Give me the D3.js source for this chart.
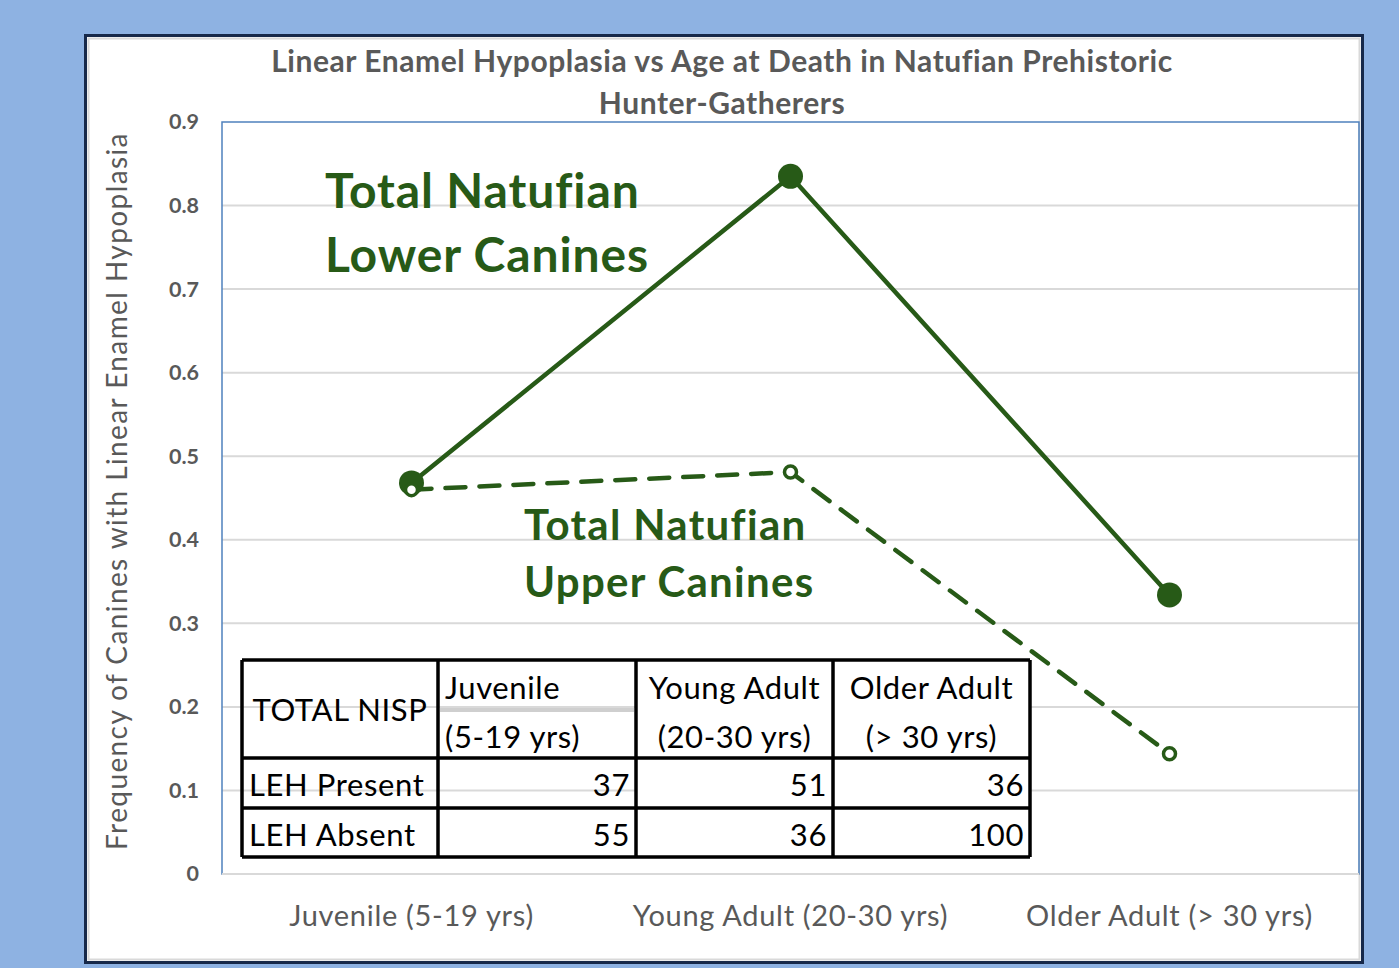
<!DOCTYPE html>
<html>
<head>
<meta charset="utf-8">
<script src="https://cdn.jsdelivr.net/npm/d3@7"></script>
<style>
  html,body{margin:0;padding:0;background:#8EB2E2;overflow:hidden;}
  svg{display:block;font-family:Lato,"Open Sans",sans-serif;}
</style>
</head>
<body>
<div id="chart"></div>
<script>
(function(){
  // data
  const categories=["Juvenile (5-19 yrs)","Young Adult (20-30 yrs)","Older Adult (> 30 yrs)"];
  const lowerCanines=[0.468,0.835,0.334];
  const upperCanines=[0.46,0.481,0.144];
  const yTicks=[0,0.1,0.2,0.3,0.4,0.5,0.6,0.7,0.8,0.9];
  const tableHead=["TOTAL NISP","Juvenile|(5-19 yrs)","Young Adult|(20-30 yrs)","Older Adult|(> 30 yrs)"];
  const tableRows=["LEH Present","LEH Absent"];
  const lehPresent=[37,51,36];
  const lehAbsent=[55,36,100];

  const W=1399,H=968;
  const green="#275A17", grey="#595959";
  const svg=d3.select("#chart").append("svg").attr("width",W).attr("height",H);

  // card
  svg.append("rect").attr("x",85.5).attr("y",35.5).attr("width",1277).attr("height",927)
    .attr("fill","#fff").attr("stroke","#17294a").attr("stroke-width",3);
  svg.append("rect").attr("x",88.5).attr("y",38.5).attr("width",1271).attr("height",921)
    .attr("fill","none").attr("stroke","#d9d9d9").attr("stroke-width",2);

  const m={l:222,r:1359,t:122,b:874};
  const x=d3.scaleBand().domain(categories).range([m.l,m.r]);
  const y=d3.scaleLinear().domain([0,0.9]).range([m.b,m.t]);

  // title
  svg.append("text").attr("x",722).attr("y",72).attr("text-anchor","middle")
    .attr("font-size",30).attr("font-weight","bold").attr("fill",grey).attr("letter-spacing",0.55)
    .text("Linear Enamel Hypoplasia vs Age at Death in Natufian Prehistoric");
  svg.append("text").attr("x",722).attr("y",114).attr("text-anchor","middle")
    .attr("font-size",30).attr("font-weight","bold").attr("fill",grey).attr("letter-spacing",0.55)
    .text("Hunter-Gatherers");

  // grid
  svg.append("g").selectAll("line").data(yTicks.filter(d=>d>0&&d<0.9)).join("line")
    .attr("x1",m.l).attr("x2",m.r).attr("y1",d=>y(d)).attr("y2",d=>y(d))
    .attr("stroke","#d9d9d9").attr("stroke-width",2);

  // plot border
  svg.append("rect").attr("x",m.l).attr("y",m.t).attr("width",m.r-m.l).attr("height",m.b-m.t)
    .attr("fill","none").attr("stroke","#4F81BD").attr("stroke-width",1.5);
  svg.append("line").attr("x1",m.l).attr("x2",m.r).attr("y1",m.b).attr("y2",m.b)
    .attr("stroke","#d9d9d9").attr("stroke-width",2);

  // y axis
  const yAxis=svg.append("g").attr("transform",`translate(${m.l},0)`)
    .call(d3.axisLeft(y).tickValues(yTicks).tickSize(0).tickPadding(23).tickFormat(d=>d===0?"0":d3.format(".1f")(d)));
  yAxis.select(".domain").remove();
  yAxis.selectAll("text").attr("font-size",21.5).attr("font-weight","bold").attr("fill",grey)
    .attr("font-family","Lato,sans-serif");

  // x axis
  const xAxis=svg.append("g").attr("transform",`translate(0,${m.b})`)
    .call(d3.axisBottom(x).tickSize(0).tickPadding(31));
  xAxis.select(".domain").remove();
  xAxis.selectAll("text").attr("font-size",29).attr("letter-spacing",0.7).attr("fill",grey)
    .attr("font-family","Lato,sans-serif");

  // y title
  svg.append("text").attr("transform","translate(127,491) rotate(-90)").attr("text-anchor","middle")
    .attr("font-size",28).attr("letter-spacing",1.4).attr("fill",grey)
    .text("Frequency of Canines with Linear Enamel Hypoplasia");

  // table
  const tx=[242,438,636,833,1030], ty=[660,758,808,857];
  const tg=svg.append("g");
  // cells: only right two columns filled
  tg.append("rect").attr("x",tx[2]).attr("y",ty[0]).attr("width",tx[4]-tx[2]).attr("height",ty[3]-ty[0]).attr("fill","#fff");
  tg.append("line").attr("x1",tx[1]+2).attr("x2",tx[2]-2).attr("y1",710).attr("y2",710)
    .attr("stroke","#cfcfcf").attr("stroke-width",4);
  tx.forEach(v=>tg.append("line").attr("x1",v).attr("x2",v).attr("y1",ty[0]).attr("y2",ty[3])
    .attr("stroke","#000").attr("stroke-width",3.5));
  ty.forEach(v=>tg.append("line").attr("x1",tx[0]).attr("x2",tx[4]).attr("y1",v).attr("y2",v)
    .attr("stroke","#000").attr("stroke-width",3.5));
  function ttext(xp,yp,anchor,s){
    tg.append("text").attr("x",xp).attr("y",yp).attr("text-anchor",anchor)
      .attr("font-size",31).attr("letter-spacing",0.6).attr("fill","#000").text(s);
  }
  ttext((tx[0]+tx[1])/2,721,"middle",tableHead[0]);
  tableHead.slice(1).forEach((h,i)=>{
    const [a,b]=h.split("|");
    if(i===0){ ttext(tx[1]+7,699,"start",a); ttext(tx[1]+7,748,"start",b); }
    else { ttext((tx[i+1]+tx[i+2])/2,699,"middle",a); ttext((tx[i+1]+tx[i+2])/2,748,"middle",b); }
  });
  [lehPresent,lehAbsent].forEach((row,r)=>{
    ttext(tx[0]+7,ty[r+1]+38,"start",tableRows[r]);
    row.forEach((v,i)=>ttext(tx[i+2]-6,ty[r+1]+38,"end",v));
  });

  // lines
  const line=d3.line().x((d,i)=>x(categories[i])+x.bandwidth()/2).y(d=>y(d));
  svg.append("path").datum(upperCanines).attr("d",line).attr("fill","none")
    .attr("stroke",green).attr("stroke-width",4.5).attr("stroke-dasharray","20,14").attr("stroke-linecap","round");
  svg.append("path").datum(lowerCanines).attr("d",line).attr("fill","none")
    .attr("stroke",green).attr("stroke-width",4.5);
  svg.append("g").selectAll("circle").data(lowerCanines).join("circle")
    .attr("cx",(d,i)=>x(categories[i])+x.bandwidth()/2).attr("cy",d=>y(d)).attr("r",12.5).attr("fill",green);
  svg.append("g").selectAll("circle").data(upperCanines).join("circle")
    .attr("cx",(d,i)=>x(categories[i])+x.bandwidth()/2).attr("cy",d=>y(d)).attr("r",6)
    .attr("fill","#fff").attr("stroke",green).attr("stroke-width",3.5);

  // annotations
  const ann=[{t:"Total Natufian",x:325,y:208,s:48,ls:0.9},{t:"Lower Canines",x:325,y:272,s:48,ls:0.9},
             {t:"Total Natufian",x:524,y:540,s:42,ls:1.3},{t:"Upper Canines",x:524,y:597,s:42,ls:1.3}];
  svg.append("g").selectAll("text").data(ann).join("text")
    .attr("x",d=>d.x).attr("y",d=>d.y).attr("font-size",d=>d.s).attr("letter-spacing",d=>d.ls)
    .attr("font-weight","bold").attr("fill",green).text(d=>d.t);
})();
</script>
</body>
</html>
